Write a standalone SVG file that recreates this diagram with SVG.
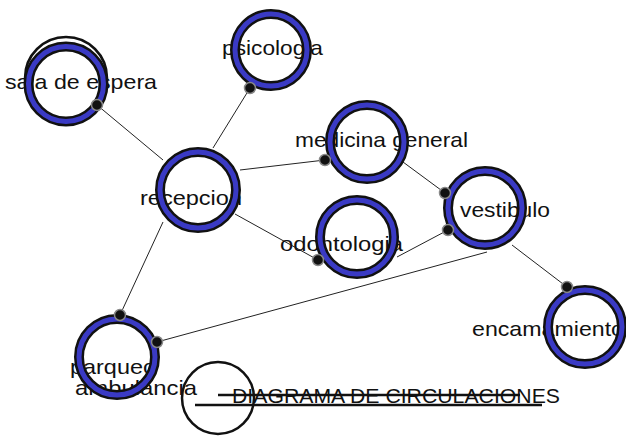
<svg xmlns="http://www.w3.org/2000/svg" width="626" height="438" viewBox="0 0 626 438">
<style>
text{font-family:"Liberation Sans",Arial,sans-serif;font-size:21px;fill:#111}
.ring{fill:none;stroke:#111;stroke-width:10}
.blue{fill:none;stroke:#3a3ac4;stroke-width:5}
.dot{fill:#111;stroke:#888;stroke-width:1.5}
.ln{stroke:#222;stroke-width:1;fill:none}
</style>
<rect width="626" height="438" fill="#fff"/>
<g id="connectors">
<line class="ln" x1="97" y1="105" x2="163" y2="160"/>
<line class="ln" x1="250" y1="88" x2="213" y2="148"/>
<line class="ln" x1="240" y1="170" x2="325" y2="160"/>
<line class="ln" x1="235" y1="214" x2="318" y2="260"/>
<line class="ln" x1="163" y1="222" x2="120" y2="315"/>
<line class="ln" x1="403" y1="162" x2="445" y2="193"/>
<line class="ln" x1="397" y1="257" x2="448" y2="230"/>
<line class="ln" x1="157" y1="342" x2="487" y2="252"/>
<line class="ln" x1="512" y1="245" x2="567" y2="287"/>
</g>
<g id="sala">
<text x="5" y="89" textLength="152" lengthAdjust="spacingAndGlyphs">sala de espera</text>
<circle cx="66" cy="78" r="41" fill="none" stroke="#111" stroke-width="2.5"/>
<circle class="ring" cx="66" cy="84" r="37.5"/>
<circle class="blue" cx="66" cy="84" r="37.5"/>
<circle class="dot" cx="97" cy="105" r="5.5"/>
</g>
<g id="psicologia">
<text x="222" y="55" textLength="101" lengthAdjust="spacingAndGlyphs">psicologia</text>
<circle class="ring" cx="271" cy="50" r="36"/>
<circle class="blue" cx="271" cy="50" r="36"/>
<circle class="dot" cx="250" cy="88" r="5.5"/>
</g>
<g id="recepcion">
<text x="140" y="205" textLength="102" lengthAdjust="spacingAndGlyphs">recepcion</text>
<circle class="ring" cx="198" cy="190" r="38"/>
<circle class="blue" cx="198" cy="190" r="38"/>
</g>
<g id="medicina">
<text x="295" y="147" textLength="173" lengthAdjust="spacingAndGlyphs">medicina general</text>
<circle class="ring" cx="367" cy="142" r="37"/>
<circle class="blue" cx="367" cy="142" r="37"/>
<circle class="dot" cx="325" cy="160" r="5.5"/>
</g>
<g id="odontologia">
<text x="280" y="251" textLength="123" lengthAdjust="spacingAndGlyphs">odontologia</text>
<circle class="ring" cx="357" cy="237" r="37"/>
<circle class="blue" cx="357" cy="237" r="37"/>
<circle class="dot" cx="318" cy="260" r="5.5"/>
</g>
<g id="vestibulo">
<text x="460" y="217" textLength="90" lengthAdjust="spacingAndGlyphs">vestibulo</text>
<circle class="ring" cx="485" cy="208" r="37"/>
<circle class="blue" cx="485" cy="208" r="37"/>
<circle class="dot" cx="445" cy="193" r="5.5"/>
<circle class="dot" cx="448" cy="230" r="5.5"/>
</g>
<g id="encamamiento">
<text x="472" y="336" textLength="152" lengthAdjust="spacingAndGlyphs">encamamiento</text>
<circle class="ring" cx="585" cy="327" r="37"/>
<circle class="blue" cx="585" cy="327" r="37"/>
<circle class="dot" cx="567" cy="287" r="5.5"/>
</g>
<g id="parqueo">
<text x="70" y="374" textLength="86" lengthAdjust="spacingAndGlyphs">parqueo</text>
<text x="75" y="395" textLength="122" lengthAdjust="spacingAndGlyphs">ambulancia</text>
<circle class="ring" cx="117" cy="357" r="38"/>
<circle class="blue" cx="117" cy="357" r="38"/>
<circle class="dot" cx="120" cy="315" r="5.5"/>
<circle class="dot" cx="157" cy="342" r="5.5"/>
</g>
<g id="title">
<circle cx="218" cy="398" r="36" fill="none" stroke="#111" stroke-width="2.5"/>
<text x="232" y="403" textLength="328" lengthAdjust="spacingAndGlyphs">DIAGRAMA DE CIRCULACIONES</text>
<line x1="218" y1="395" x2="520" y2="395" stroke="#111" stroke-width="2.5"/>
<line x1="195" y1="405" x2="542" y2="405" stroke="#111" stroke-width="2.5"/>
</g>
</svg>
